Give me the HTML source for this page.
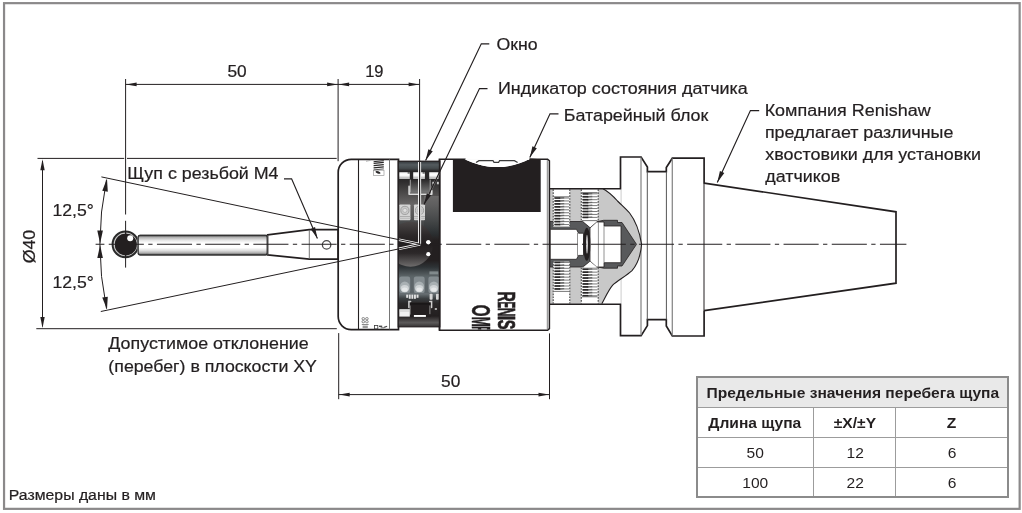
<!DOCTYPE html>
<html lang="ru"><head><meta charset="utf-8"><title>OMP40 — размеры</title>
<style>
html,body{margin:0;padding:0;background:#fff}
body{width:1022px;height:513px;position:relative;overflow:hidden;font-family:"Liberation Sans",sans-serif;color:#231f20}
svg{position:absolute;left:0;top:0;display:block;will-change:transform}
svg text{font-family:"Liberation Sans",sans-serif;fill:#231f20}
svg text.lb{stroke:#231f20;stroke-width:0.22px}
table{position:absolute;left:696px;top:375.8px;width:313.3px;border-collapse:collapse;table-layout:fixed;font-size:14.7px;border:2px solid #8b8b8b;box-sizing:border-box;will-change:transform}
td,th{border:1.3px solid #9c9c9c;padding:1.6px 0 0 0;text-align:center;vertical-align:middle;line-height:17px;font-weight:normal;box-sizing:border-box;white-space:nowrap;overflow:visible}
th{font-weight:bold}
td span,th span{display:inline-block;transform-origin:50% 50%}
tr.h th{background:#e9e9e9;height:30.3px}
tr.r1 th{height:30.2px}
tr.r2 td{height:30.5px}
tr.r3 td{height:29.3px}
tr.r1 th:first-child span{margin-right:2px}
tr.r2 td:first-child span{margin-right:1.6px}
tr td:last-child span{margin-left:1px}
th span{transform:scaleX(1.062)}
td span{transform:scaleX(1.06)}
</style></head><body>
<svg width="1022" height="513" viewBox="0 0 1022 513">
<defs>
<linearGradient id="stem" x1="0" y1="0" x2="0" y2="1">
<stop offset="0" stop-color="#3a3a3a"/><stop offset="0.06" stop-color="#6a6a6a"/><stop offset="0.13" stop-color="#b4b4b4"/><stop offset="0.26" stop-color="#e4e4e4"/><stop offset="0.4" stop-color="#ffffff"/><stop offset="0.62" stop-color="#ffffff"/><stop offset="0.76" stop-color="#e0e0e0"/><stop offset="0.88" stop-color="#b0b0b0"/><stop offset="0.95" stop-color="#6a6a6a"/><stop offset="1" stop-color="#3a3a3a"/>
</linearGradient>
<linearGradient id="win" x1="0" y1="0" x2="0" y2="1">
<stop offset="0" stop-color="#2e3235"/><stop offset="0.07" stop-color="#282627"/><stop offset="0.12" stop-color="#2d2b2c"/><stop offset="0.2" stop-color="#4f4d4d"/><stop offset="0.26" stop-color="#686666"/><stop offset="0.34" stop-color="#565656"/><stop offset="0.42" stop-color="#33373a"/><stop offset="0.48" stop-color="#231f20"/><stop offset="0.6" stop-color="#231f20"/><stop offset="0.64" stop-color="#2e3336"/><stop offset="0.69" stop-color="#586063"/><stop offset="0.8" stop-color="#6a7276"/><stop offset="0.83" stop-color="#3a3e40"/><stop offset="0.86" stop-color="#2a2829"/><stop offset="0.935" stop-color="#231f20"/><stop offset="0.975" stop-color="#5c5a5a"/><stop offset="1" stop-color="#343233"/>
</linearGradient>
<linearGradient id="wtop" x1="0" y1="0" x2="0" y2="1"><stop offset="0" stop-color="#33383b"/><stop offset="0.35" stop-color="#535a5e"/><stop offset="0.7" stop-color="#454b4e"/><stop offset="1" stop-color="#282627"/></linearGradient>
<linearGradient id="pad" x1="0" y1="0" x2="0" y2="1"><stop offset="0" stop-color="#e9e9e9"/><stop offset="0.3" stop-color="#ffffff"/><stop offset="0.6" stop-color="#f4f4f4"/><stop offset="0.75" stop-color="#bcbcbc"/><stop offset="1" stop-color="#ededed"/></linearGradient>
<linearGradient id="wbox" x1="0" y1="0" x2="0" y2="1"><stop offset="0" stop-color="#2a2829"/><stop offset="1" stop-color="#777"/></linearGradient>
<linearGradient id="wright" x1="0" y1="0" x2="0" y2="1"><stop offset="0" stop-color="#6d6b6b" stop-opacity="0.9"/><stop offset="0.5" stop-color="#4a4c4d" stop-opacity="0.8"/><stop offset="1" stop-color="#262b2d" stop-opacity="0.6"/></linearGradient>
<linearGradient id="wdisc" x1="0" y1="0" x2="0" y2="1"><stop offset="0" stop-color="#4a4646"/><stop offset="0.3" stop-color="#2c2829"/><stop offset="0.5" stop-color="#231f20"/><stop offset="0.7" stop-color="#2c2829"/><stop offset="1" stop-color="#6e6c6c"/></linearGradient>
<pattern id="thr" x="0" y="0" width="20" height="2.95" patternUnits="userSpaceOnUse">
<rect x="0" y="0" width="20" height="2.95" fill="#f4f4f4"/>
<rect x="0" y="0.3" width="20" height="1.3" fill="#8c8c8c"/>
<rect x="2.5" y="0.2" width="5" height="1.5" fill="#2a2a2a"/>
</pattern>
<clipPath id="bodyclip"><rect x="440" y="160" width="108" height="169.4"/></clipPath>
</defs>
<rect x="4.05" y="3.15" width="1015.6" height="505.7" fill="#fff" stroke="#8b898a" stroke-width="2.2"/>
<g stroke="#231f20" fill="#fff" stroke-linejoin="miter">
<polygon points="704.1,183.1 896,211.8 896,283.2 704.1,310.6" stroke="none"/>
<polyline points="704.1,183.1 896,211.8 896,283.2 704.1,310.6" fill="none" stroke-width="1.7"/>
<path d="M620.5,188.5 L620.5,157 L641.1,157 L647.4,167 L647.4,171.6 L666.3,171.6 L666.3,167.6 L672.3,158.2 L704.1,158.2 L704.1,183.4 M704.1,310.4 L704.1,336 L672.3,336 L666.3,326 L666.3,319.6 L647.4,319.6 L647.4,325.6 L641.1,335.6 L620.5,335.6 L620.5,304.4 " stroke-width="1.7"/>
</g>
<line x1="704.0" y1="183" x2="704.0" y2="310.6" stroke="#231f20" stroke-width="1" />
<line x1="641.0" y1="157.5" x2="641.0" y2="335.2" stroke="#8a8a8a" stroke-width="1.3" />
<line x1="647.3" y1="171.6" x2="647.3" y2="319.6" stroke="#555" stroke-width="1" />
<line x1="666.4" y1="171.6" x2="666.4" y2="319.6" stroke="#555" stroke-width="1" />
<line x1="672.3" y1="158.5" x2="672.3" y2="335.6" stroke="#8a8a8a" stroke-width="1.3" />
<line x1="620.8" y1="189" x2="620.8" y2="304" stroke="#9a9a9a" stroke-width="1" />
<rect x="549.7" y="188.8" width="71" height="115.1" fill="#fff"/>
<path d="M550,188.8 L603,188.8 C609,192 613,196 617.5,201 C622,205.5 626,209 629.6,213 C635,220 639.5,231 641.6,244.3 C640.5,257 637,265 632,270.6 C626,276 617,281 612.7,285.1 C608.5,290 605.5,297 601.8,303.8 L550,303.8 Z" fill="#c8c8c8" stroke="none"/>
<path d="M549.8,221.5 L582.5,221.5 L590,227.5 L597.6,221.5 L603.6,220.3 L617.5,220.3 L617.5,222.5 L622,222.5 L636.5,244.3 L622,266 L617.5,266 L617.5,268.2 L603.6,268.2 L597.6,267 L590,261.5 L582.5,267 L549.8,267 Z" fill="#58595b" stroke="#231f20" stroke-width="0.8"/>
<rect x="553.2" y="189.3" width="16.59999999999991" height="37.69999999999999" fill="#fff"/><line x1="553.8000000000001" y1="198.00" x2="569.1999999999999" y2="198.00" stroke="#7a7a7a" stroke-width="1"/><line x1="559.4000000000001" y1="198.00" x2="564.2" y2="197.70" stroke="#6a6a6a" stroke-width="1.4"/><line x1="554.6" y1="198.00" x2="560.2" y2="198.00" stroke="#2a2829" stroke-width="1.7"/><line x1="553.8000000000001" y1="200.95" x2="569.1999999999999" y2="200.95" stroke="#7a7a7a" stroke-width="1"/><line x1="559.4000000000001" y1="200.95" x2="564.2" y2="200.65" stroke="#6a6a6a" stroke-width="1.4"/><line x1="554.6" y1="200.95" x2="560.2" y2="200.95" stroke="#2a2829" stroke-width="1.7"/><line x1="553.8000000000001" y1="203.90" x2="569.1999999999999" y2="203.90" stroke="#7a7a7a" stroke-width="1"/><line x1="559.4000000000001" y1="203.90" x2="564.2" y2="203.60" stroke="#6a6a6a" stroke-width="1.4"/><line x1="554.6" y1="203.90" x2="560.2" y2="203.90" stroke="#2a2829" stroke-width="1.7"/><line x1="553.8000000000001" y1="206.85" x2="569.1999999999999" y2="206.85" stroke="#7a7a7a" stroke-width="1"/><line x1="559.4000000000001" y1="206.85" x2="564.2" y2="206.55" stroke="#6a6a6a" stroke-width="1.4"/><line x1="554.6" y1="206.85" x2="560.2" y2="206.85" stroke="#2a2829" stroke-width="1.7"/><line x1="553.8000000000001" y1="209.80" x2="569.1999999999999" y2="209.80" stroke="#7a7a7a" stroke-width="1"/><line x1="559.4000000000001" y1="209.80" x2="564.2" y2="209.50" stroke="#6a6a6a" stroke-width="1.4"/><line x1="554.6" y1="209.80" x2="560.2" y2="209.80" stroke="#2a2829" stroke-width="1.7"/><line x1="553.8000000000001" y1="212.75" x2="569.1999999999999" y2="212.75" stroke="#7a7a7a" stroke-width="1"/><line x1="559.4000000000001" y1="212.75" x2="564.2" y2="212.45" stroke="#6a6a6a" stroke-width="1.4"/><line x1="554.6" y1="212.75" x2="560.2" y2="212.75" stroke="#2a2829" stroke-width="1.7"/><line x1="553.8000000000001" y1="215.70" x2="569.1999999999999" y2="215.70" stroke="#7a7a7a" stroke-width="1"/><line x1="559.4000000000001" y1="215.70" x2="564.2" y2="215.40" stroke="#6a6a6a" stroke-width="1.4"/><line x1="554.6" y1="215.70" x2="560.2" y2="215.70" stroke="#2a2829" stroke-width="1.7"/><line x1="553.8000000000001" y1="218.65" x2="569.1999999999999" y2="218.65" stroke="#7a7a7a" stroke-width="1"/><line x1="559.4000000000001" y1="218.65" x2="564.2" y2="218.35" stroke="#6a6a6a" stroke-width="1.4"/><line x1="554.6" y1="218.65" x2="560.2" y2="218.65" stroke="#2a2829" stroke-width="1.7"/><line x1="553.8000000000001" y1="221.60" x2="569.1999999999999" y2="221.60" stroke="#7a7a7a" stroke-width="1"/><line x1="559.4000000000001" y1="221.60" x2="564.2" y2="221.30" stroke="#6a6a6a" stroke-width="1.4"/><line x1="554.6" y1="221.60" x2="560.2" y2="221.60" stroke="#2a2829" stroke-width="1.7"/><line x1="553.8000000000001" y1="224.55" x2="569.1999999999999" y2="224.55" stroke="#7a7a7a" stroke-width="1"/><line x1="559.4000000000001" y1="224.55" x2="564.2" y2="224.25" stroke="#6a6a6a" stroke-width="1.4"/><line x1="554.6" y1="224.55" x2="560.2" y2="224.55" stroke="#2a2829" stroke-width="1.7"/><line x1="553.9000000000001" y1="196.8" x2="569.0999999999999" y2="196.8" stroke="#666" stroke-width="0.9"/><line x1="553.9000000000001" y1="227" x2="569.0999999999999" y2="227" stroke="#666" stroke-width="0.9"/><line x1="553.2" y1="189.3" x2="553.2" y2="227" stroke="#4a4a4a" stroke-width="1.1" stroke-dasharray="1.7 1.25"/><line x1="569.8" y1="189.3" x2="569.8" y2="227" stroke="#4a4a4a" stroke-width="1.1" stroke-dasharray="1.7 1.25"/>
<rect x="581.3" y="189.3" width="16.90000000000009" height="31.69999999999999" fill="#fff"/><line x1="581.9" y1="193.80" x2="597.6" y2="193.80" stroke="#7a7a7a" stroke-width="1"/><line x1="587.5" y1="193.80" x2="592.3" y2="193.50" stroke="#6a6a6a" stroke-width="1.4"/><line x1="582.6999999999999" y1="193.80" x2="588.3" y2="193.80" stroke="#2a2829" stroke-width="1.7"/><line x1="581.9" y1="196.75" x2="597.6" y2="196.75" stroke="#7a7a7a" stroke-width="1"/><line x1="587.5" y1="196.75" x2="592.3" y2="196.45" stroke="#6a6a6a" stroke-width="1.4"/><line x1="582.6999999999999" y1="196.75" x2="588.3" y2="196.75" stroke="#2a2829" stroke-width="1.7"/><line x1="581.9" y1="199.70" x2="597.6" y2="199.70" stroke="#7a7a7a" stroke-width="1"/><line x1="587.5" y1="199.70" x2="592.3" y2="199.40" stroke="#6a6a6a" stroke-width="1.4"/><line x1="582.6999999999999" y1="199.70" x2="588.3" y2="199.70" stroke="#2a2829" stroke-width="1.7"/><line x1="581.9" y1="202.65" x2="597.6" y2="202.65" stroke="#7a7a7a" stroke-width="1"/><line x1="587.5" y1="202.65" x2="592.3" y2="202.35" stroke="#6a6a6a" stroke-width="1.4"/><line x1="582.6999999999999" y1="202.65" x2="588.3" y2="202.65" stroke="#2a2829" stroke-width="1.7"/><line x1="581.9" y1="205.60" x2="597.6" y2="205.60" stroke="#7a7a7a" stroke-width="1"/><line x1="587.5" y1="205.60" x2="592.3" y2="205.30" stroke="#6a6a6a" stroke-width="1.4"/><line x1="582.6999999999999" y1="205.60" x2="588.3" y2="205.60" stroke="#2a2829" stroke-width="1.7"/><line x1="581.9" y1="208.55" x2="597.6" y2="208.55" stroke="#7a7a7a" stroke-width="1"/><line x1="587.5" y1="208.55" x2="592.3" y2="208.25" stroke="#6a6a6a" stroke-width="1.4"/><line x1="582.6999999999999" y1="208.55" x2="588.3" y2="208.55" stroke="#2a2829" stroke-width="1.7"/><line x1="581.9" y1="211.50" x2="597.6" y2="211.50" stroke="#7a7a7a" stroke-width="1"/><line x1="587.5" y1="211.50" x2="592.3" y2="211.20" stroke="#6a6a6a" stroke-width="1.4"/><line x1="582.6999999999999" y1="211.50" x2="588.3" y2="211.50" stroke="#2a2829" stroke-width="1.7"/><line x1="581.9" y1="214.45" x2="597.6" y2="214.45" stroke="#7a7a7a" stroke-width="1"/><line x1="587.5" y1="214.45" x2="592.3" y2="214.15" stroke="#6a6a6a" stroke-width="1.4"/><line x1="582.6999999999999" y1="214.45" x2="588.3" y2="214.45" stroke="#2a2829" stroke-width="1.7"/><line x1="581.9" y1="217.40" x2="597.6" y2="217.40" stroke="#7a7a7a" stroke-width="1"/><line x1="587.5" y1="217.40" x2="592.3" y2="217.10" stroke="#6a6a6a" stroke-width="1.4"/><line x1="582.6999999999999" y1="217.40" x2="588.3" y2="217.40" stroke="#2a2829" stroke-width="1.7"/><line x1="582.0" y1="192.6" x2="597.5" y2="192.6" stroke="#666" stroke-width="0.9"/><line x1="582.0" y1="220.6" x2="597.5" y2="220.6" stroke="#666" stroke-width="0.9"/><line x1="581.3" y1="189.3" x2="581.3" y2="221" stroke="#4a4a4a" stroke-width="1.1" stroke-dasharray="1.7 1.25"/><line x1="598.2" y1="189.3" x2="598.2" y2="221" stroke="#4a4a4a" stroke-width="1.1" stroke-dasharray="1.7 1.25"/>
<rect x="553.2" y="261" width="16.59999999999991" height="42.39999999999998" fill="#fff"/><line x1="553.8000000000001" y1="262.40" x2="569.1999999999999" y2="262.40" stroke="#7a7a7a" stroke-width="1"/><line x1="559.4000000000001" y1="262.40" x2="564.2" y2="262.10" stroke="#6a6a6a" stroke-width="1.4"/><line x1="554.6" y1="262.40" x2="560.2" y2="262.40" stroke="#2a2829" stroke-width="1.7"/><line x1="553.8000000000001" y1="265.35" x2="569.1999999999999" y2="265.35" stroke="#7a7a7a" stroke-width="1"/><line x1="559.4000000000001" y1="265.35" x2="564.2" y2="265.05" stroke="#6a6a6a" stroke-width="1.4"/><line x1="554.6" y1="265.35" x2="560.2" y2="265.35" stroke="#2a2829" stroke-width="1.7"/><line x1="553.8000000000001" y1="268.30" x2="569.1999999999999" y2="268.30" stroke="#7a7a7a" stroke-width="1"/><line x1="559.4000000000001" y1="268.30" x2="564.2" y2="268.00" stroke="#6a6a6a" stroke-width="1.4"/><line x1="554.6" y1="268.30" x2="560.2" y2="268.30" stroke="#2a2829" stroke-width="1.7"/><line x1="553.8000000000001" y1="271.25" x2="569.1999999999999" y2="271.25" stroke="#7a7a7a" stroke-width="1"/><line x1="559.4000000000001" y1="271.25" x2="564.2" y2="270.95" stroke="#6a6a6a" stroke-width="1.4"/><line x1="554.6" y1="271.25" x2="560.2" y2="271.25" stroke="#2a2829" stroke-width="1.7"/><line x1="553.8000000000001" y1="274.20" x2="569.1999999999999" y2="274.20" stroke="#7a7a7a" stroke-width="1"/><line x1="559.4000000000001" y1="274.20" x2="564.2" y2="273.90" stroke="#6a6a6a" stroke-width="1.4"/><line x1="554.6" y1="274.20" x2="560.2" y2="274.20" stroke="#2a2829" stroke-width="1.7"/><line x1="553.8000000000001" y1="277.15" x2="569.1999999999999" y2="277.15" stroke="#7a7a7a" stroke-width="1"/><line x1="559.4000000000001" y1="277.15" x2="564.2" y2="276.85" stroke="#6a6a6a" stroke-width="1.4"/><line x1="554.6" y1="277.15" x2="560.2" y2="277.15" stroke="#2a2829" stroke-width="1.7"/><line x1="553.8000000000001" y1="280.10" x2="569.1999999999999" y2="280.10" stroke="#7a7a7a" stroke-width="1"/><line x1="559.4000000000001" y1="280.10" x2="564.2" y2="279.80" stroke="#6a6a6a" stroke-width="1.4"/><line x1="554.6" y1="280.10" x2="560.2" y2="280.10" stroke="#2a2829" stroke-width="1.7"/><line x1="553.8000000000001" y1="283.05" x2="569.1999999999999" y2="283.05" stroke="#7a7a7a" stroke-width="1"/><line x1="559.4000000000001" y1="283.05" x2="564.2" y2="282.75" stroke="#6a6a6a" stroke-width="1.4"/><line x1="554.6" y1="283.05" x2="560.2" y2="283.05" stroke="#2a2829" stroke-width="1.7"/><line x1="553.8000000000001" y1="286.00" x2="569.1999999999999" y2="286.00" stroke="#7a7a7a" stroke-width="1"/><line x1="559.4000000000001" y1="286.00" x2="564.2" y2="285.70" stroke="#6a6a6a" stroke-width="1.4"/><line x1="554.6" y1="286.00" x2="560.2" y2="286.00" stroke="#2a2829" stroke-width="1.7"/><line x1="553.8000000000001" y1="288.95" x2="569.1999999999999" y2="288.95" stroke="#7a7a7a" stroke-width="1"/><line x1="559.4000000000001" y1="288.95" x2="564.2" y2="288.65" stroke="#6a6a6a" stroke-width="1.4"/><line x1="554.6" y1="288.95" x2="560.2" y2="288.95" stroke="#2a2829" stroke-width="1.7"/><line x1="553.9000000000001" y1="261.2" x2="569.0999999999999" y2="261.2" stroke="#666" stroke-width="0.9"/><line x1="553.9000000000001" y1="291.4" x2="569.0999999999999" y2="291.4" stroke="#666" stroke-width="0.9"/><line x1="553.2" y1="261" x2="553.2" y2="303.4" stroke="#4a4a4a" stroke-width="1.1" stroke-dasharray="1.7 1.25"/><line x1="569.8" y1="261" x2="569.8" y2="303.4" stroke="#4a4a4a" stroke-width="1.1" stroke-dasharray="1.7 1.25"/>
<rect x="581.3" y="267.5" width="16.90000000000009" height="35.89999999999998" fill="#fff"/><line x1="581.9" y1="269.20" x2="597.6" y2="269.20" stroke="#7a7a7a" stroke-width="1"/><line x1="587.5" y1="269.20" x2="592.3" y2="268.90" stroke="#6a6a6a" stroke-width="1.4"/><line x1="582.6999999999999" y1="269.20" x2="588.3" y2="269.20" stroke="#2a2829" stroke-width="1.7"/><line x1="581.9" y1="272.15" x2="597.6" y2="272.15" stroke="#7a7a7a" stroke-width="1"/><line x1="587.5" y1="272.15" x2="592.3" y2="271.85" stroke="#6a6a6a" stroke-width="1.4"/><line x1="582.6999999999999" y1="272.15" x2="588.3" y2="272.15" stroke="#2a2829" stroke-width="1.7"/><line x1="581.9" y1="275.10" x2="597.6" y2="275.10" stroke="#7a7a7a" stroke-width="1"/><line x1="587.5" y1="275.10" x2="592.3" y2="274.80" stroke="#6a6a6a" stroke-width="1.4"/><line x1="582.6999999999999" y1="275.10" x2="588.3" y2="275.10" stroke="#2a2829" stroke-width="1.7"/><line x1="581.9" y1="278.05" x2="597.6" y2="278.05" stroke="#7a7a7a" stroke-width="1"/><line x1="587.5" y1="278.05" x2="592.3" y2="277.75" stroke="#6a6a6a" stroke-width="1.4"/><line x1="582.6999999999999" y1="278.05" x2="588.3" y2="278.05" stroke="#2a2829" stroke-width="1.7"/><line x1="581.9" y1="281.00" x2="597.6" y2="281.00" stroke="#7a7a7a" stroke-width="1"/><line x1="587.5" y1="281.00" x2="592.3" y2="280.70" stroke="#6a6a6a" stroke-width="1.4"/><line x1="582.6999999999999" y1="281.00" x2="588.3" y2="281.00" stroke="#2a2829" stroke-width="1.7"/><line x1="581.9" y1="283.95" x2="597.6" y2="283.95" stroke="#7a7a7a" stroke-width="1"/><line x1="587.5" y1="283.95" x2="592.3" y2="283.65" stroke="#6a6a6a" stroke-width="1.4"/><line x1="582.6999999999999" y1="283.95" x2="588.3" y2="283.95" stroke="#2a2829" stroke-width="1.7"/><line x1="581.9" y1="286.90" x2="597.6" y2="286.90" stroke="#7a7a7a" stroke-width="1"/><line x1="587.5" y1="286.90" x2="592.3" y2="286.60" stroke="#6a6a6a" stroke-width="1.4"/><line x1="582.6999999999999" y1="286.90" x2="588.3" y2="286.90" stroke="#2a2829" stroke-width="1.7"/><line x1="581.9" y1="289.85" x2="597.6" y2="289.85" stroke="#7a7a7a" stroke-width="1"/><line x1="587.5" y1="289.85" x2="592.3" y2="289.55" stroke="#6a6a6a" stroke-width="1.4"/><line x1="582.6999999999999" y1="289.85" x2="588.3" y2="289.85" stroke="#2a2829" stroke-width="1.7"/><line x1="581.9" y1="292.80" x2="597.6" y2="292.80" stroke="#7a7a7a" stroke-width="1"/><line x1="587.5" y1="292.80" x2="592.3" y2="292.50" stroke="#6a6a6a" stroke-width="1.4"/><line x1="582.6999999999999" y1="292.80" x2="588.3" y2="292.80" stroke="#2a2829" stroke-width="1.7"/><line x1="581.9" y1="295.75" x2="597.6" y2="295.75" stroke="#7a7a7a" stroke-width="1"/><line x1="587.5" y1="295.75" x2="592.3" y2="295.45" stroke="#6a6a6a" stroke-width="1.4"/><line x1="582.6999999999999" y1="295.75" x2="588.3" y2="295.75" stroke="#2a2829" stroke-width="1.7"/><line x1="582.0" y1="268" x2="597.5" y2="268" stroke="#666" stroke-width="0.9"/><line x1="582.0" y1="296.8" x2="597.5" y2="296.8" stroke="#666" stroke-width="0.9"/><line x1="581.3" y1="267.5" x2="581.3" y2="303.4" stroke="#4a4a4a" stroke-width="1.1" stroke-dasharray="1.7 1.25"/><line x1="598.2" y1="267.5" x2="598.2" y2="303.4" stroke="#4a4a4a" stroke-width="1.1" stroke-dasharray="1.7 1.25"/>
<path d="M550.2,229.3 L576.5,229.3 L578.5,233.2 L583.5,233.2 L583.5,255.4 L578.5,255.4 L576.5,259.3 L550.2,259.3 Z" fill="#fff" stroke="#231f20" stroke-width="0.8"/>
<line x1="577.5" y1="233" x2="577.5" y2="256" stroke="#777" stroke-width="0.8" />
<path d="M590,228 L596.5,222 L604,222 L604,226 L621,226 L621,262.7 L604,262.7 L604,267 L596.5,267 L590,261 Z" fill="#fff" stroke="#231f20" stroke-width="0.8"/>
<line x1="598.4" y1="222" x2="598.4" y2="267" stroke="#777" stroke-width="0.8" />
<line x1="604" y1="226" x2="604" y2="262.7" stroke="#777" stroke-width="0.8" />
<polygon points="583.5,221.3 597,221.3 590.2,227.3" fill="#fff"/>
<polygon points="583.5,267.4 597,267.4 590.2,261.6" fill="#fff"/>
<ellipse cx="586.8" cy="244.25" rx="3.6" ry="16.6" fill="#231f20"/>
<ellipse cx="587" cy="244.25" rx="0.75" ry="9.5" fill="#fff"/>
<path d="M603,188.8 C609,192 613,196 617.5,201 C622,205.5 626,209 629.6,213 C635,220 639.5,231 641.6,244.3 C640.5,257 637,265 632,270.6 C626,276 617,281 612.7,285.1 C608.5,290 605.5,297 601.8,303.8" fill="none" stroke="#231f20" stroke-width="1.1"/>
<line x1="549.7" y1="188.8" x2="621.2" y2="188.8" stroke="#231f20" stroke-width="1.6" />
<line x1="549.7" y1="304.3" x2="621.2" y2="304.3" stroke="#231f20" stroke-width="1.6" />
<path d="M439.4,159.2 L547.6,159.2 L549.4,160.8 L549.4,328.6 L547.6,330.2 L439.4,330.2 Z" fill="#fff" stroke="#231f20" stroke-width="1.5"/>
<line x1="547.3" y1="160" x2="547.3" y2="329" stroke="#777" stroke-width="0.9" />
<path d="M452.9,159.2 L464.5,159.2 C474,163.5 484,167 497,167 C510,167 521,163.5 530,158.6 L540.7,159.2 L540.7,212.1 L452.9,212.1 Z" fill="#231f20"/>
<path d="M464.5,159.3 C474,163.6 484,167.1 497,167.1 C510,167.1 521,163.6 530,158.7 Z" fill="#fff"/>
<path d="M476,162.6 L479,160.7 L493,160.7 L494,162.4 L498.6,162.4 L499.6,160.7 L514.4,160.7 L517.6,162.6" fill="none" stroke="#3a3a3a" stroke-width="1.2"/>
<rect x="465.6" y="157" width="63.6" height="2.9" fill="#fff"/>
<g clip-path="url(#bodyclip)" font-weight="bold"><text transform="translate(498.4,291.58) rotate(90) scale(0.5836,1)" font-size="24.3" stroke="#231f20" stroke-width="0.7">R</text><text transform="translate(498.4,301.59) rotate(90) scale(0.4074,1)" font-size="24.3" stroke="#231f20" stroke-width="0.7">E</text><text transform="translate(498.4,307.83) rotate(90) scale(0.4982,1)" font-size="24.3" stroke="#231f20" stroke-width="0.7">N</text><text transform="translate(498.4,315.56) rotate(90) scale(0.7077,1)" font-size="24.3" stroke="#231f20" stroke-width="0.7">I</text><text transform="translate(498.4,319.65) rotate(90) scale(0.6000,1)" font-size="24.3" stroke="#231f20" stroke-width="0.7">S</text></g>
<g clip-path="url(#bodyclip)" font-weight="bold"><text transform="translate(472.3,304.79) rotate(90) scale(0.6057,1)" font-size="25.14" stroke="#231f20" stroke-width="0.5">O</text><text transform="translate(472.3,316.67) rotate(90) scale(0.4743,1)" font-size="25.14" stroke="#231f20" stroke-width="0.5">M</text><text transform="translate(472.3,325.99) rotate(90) scale(0.4070,1)" font-size="25.14" stroke="#231f20" stroke-width="0.5">P</text></g>
<path d="M351.2,159.3 L398.5,159.3 L398.5,329.6 L351.2,329.6 C344,329.6 338.2,323.8 338.2,316.6 L338.2,172.3 C338.2,165.1 344,159.3 351.2,159.3 Z" fill="#fff" stroke="#231f20" stroke-width="1.7"/>
<line x1="358.5" y1="159.3" x2="358.5" y2="329.4" stroke="#231f20" stroke-width="1.1" />
<line x1="389.5" y1="159.3" x2="389.5" y2="329.4" stroke="#666" stroke-width="0.9" />
<g fill="none" stroke="#2a2829" stroke-linecap="butt">
<line x1="373.6" y1="161.7" x2="383.8" y2="160.7" stroke-width="1.0"/>
<line x1="373.6" y1="163.4" x2="383.8" y2="162.4" stroke-width="1.3"/>
<line x1="373.6" y1="165.6" x2="383.8" y2="164.6" stroke-width="1.4"/>
<line x1="373.6" y1="167.9" x2="383.8" y2="166.9" stroke-width="1.4"/>
<line x1="373.6" y1="169.9" x2="383.8" y2="168.9" stroke-width="0.8"/>
<rect x="373.6" y="170.2" width="10.4" height="5.4" stroke="#8a8a8a" stroke-width="0.6"/>
<path d="M366,161.2 L370.5,160.4" stroke="#aaa" stroke-width="1"/>
</g>
<ellipse cx="378" cy="172.4" rx="2.6" ry="1.2" fill="#2a2829" transform="rotate(18 378 172.4)"/>
<g fill="none" stroke="#777" stroke-width="0.9">
<rect x="362" y="317.6" width="2.6" height="2.2" rx="1"/><rect x="365.6" y="317.6" width="2.6" height="2.2" rx="1"/>
<rect x="362" y="320.6" width="2.6" height="2.2" rx="1"/><rect x="365.6" y="320.6" width="2.6" height="2.2" rx="1"/>
</g>
<rect x="361.8" y="324" width="6.8" height="1" fill="#8a8a8a"/><rect x="362.6" y="325.6" width="5.2" height="2.6" fill="#9a9a9a"/>
<rect x="374.4" y="325.5" width="3.4" height="3.4" fill="none" stroke="#3a3a3a" stroke-width="0.8"/>
<rect x="379" y="325.6" width="3.2" height="1.4" fill="#4a4a4a"/><rect x="380.6" y="327.2" width="3.6" height="1.2" fill="#777"/><rect x="384" y="326.2" width="3.2" height="1.2" fill="#4a4a4a" transform="rotate(-20 385.6 326.8)"/>
<clipPath id="wclip"><rect x="398.2" y="161.2" width="41.60000000000002" height="165.60000000000002"/></clipPath>
<rect x="398.2" y="161.2" width="41.60000000000002" height="165.60000000000002" fill="url(#win)"/>
<g clip-path="url(#wclip)">
<rect x="424" y="196" width="16" height="40" fill="url(#wright)"/>
<circle cx="410.5" cy="244.2" r="22.5" fill="url(#wdisc)"/>
<rect x="398.2" y="161.2" width="41.6" height="10" fill="url(#wtop)"/>
<rect x="399.2" y="171.6" width="39.6" height="8.2" fill="#2a2829"/>
<rect x="399.3" y="172.2" width="10.5" height="6.6" fill="url(#pad)"/>
<rect x="413.2" y="172.2" width="11.7" height="6.6" fill="url(#pad)"/>
<rect x="429.2" y="172.2" width="9.4" height="6.6" fill="url(#pad)"/>
<rect x="407.6" y="172.2" width="2.2" height="1.4" fill="#555"/><rect x="422.6" y="172.2" width="2.2" height="1.4" fill="#555"/>
<rect x="410" y="179" width="3.1" height="7" fill="#262324" opacity="0.85"/><rect x="425" y="179" width="4.2" height="8" fill="#262324" opacity="0.85"/>
<rect x="410.4" y="179.4" width="19.8" height="13.4" fill="url(#wbox)"/>
<path d="M410.3,179.6 L410.3,192.6 M430.2,179.6 L430.2,190" fill="none" stroke="#bdbdbd" stroke-width="0.8"/>
<path d="M409.1,186.4 L409.1,194.2 L431.8,194.2 L431.8,190.6" fill="none" stroke="#dcdcdc" stroke-width="1.6" stroke-linejoin="round" stroke-linecap="round"/>
<rect x="432.3" y="181.8" width="2.1" height="2.5" fill="#c9c9c9"/><rect x="436.9" y="181.8" width="2.1" height="2.5" fill="#c9c9c9"/>
<rect x="399.4" y="204.4" width="11" height="15.8" rx="0.8" fill="#d4d4d4"/>
<circle cx="404.9" cy="210.4" r="4.1" fill="#c9c9c9" stroke="#9a9a9a" stroke-width="0.9"/>
<circle cx="404.9" cy="210.4" r="2.1" fill="#dedede" stroke="#a8a8a8" stroke-width="0.7"/>
<rect x="399.4" y="216.2" width="11" height="0.9" fill="#a2a2a2"/>
<rect x="399.4" y="218.2" width="11" height="0.7" fill="#b5b5b5"/>
<rect x="414.0" y="204.4" width="11" height="15.8" rx="0.8" fill="#d4d4d4"/>
<circle cx="419.5" cy="210.4" r="4.1" fill="#c9c9c9" stroke="#9a9a9a" stroke-width="0.9"/>
<circle cx="419.5" cy="210.4" r="2.1" fill="#dedede" stroke="#a8a8a8" stroke-width="0.7"/>
<rect x="414.0" y="216.2" width="11" height="0.9" fill="#a2a2a2"/>
<rect x="414.0" y="218.2" width="11" height="0.7" fill="#b5b5b5"/>
<circle cx="428.3" cy="242.3" r="2.1" fill="#fff"/><circle cx="428.3" cy="254.2" r="2.1" fill="#fff"/>
<rect x="429.4" y="271.4" width="9" height="3" fill="#8f979a" opacity="0.8"/>
<rect x="398.2" y="276.3" width="41.6" height="17" fill="#5d6569"/>
<rect x="399.3" y="276.5" width="10.9" height="16.6" rx="2.2" fill="#848c90"/>
<ellipse cx="404.75" cy="286.8" rx="4.9" ry="5.2" fill="#a9b0b3"/>
<ellipse cx="404.75" cy="288.6" rx="4.1" ry="3.6" fill="#cfd3d5"/>
<ellipse cx="404.75" cy="289.6" rx="2.8" ry="2.2" fill="#e6e8e9"/>
<rect x="413.8" y="276.5" width="10.9" height="16.6" rx="2.2" fill="#848c90"/>
<ellipse cx="419.25" cy="286.8" rx="4.9" ry="5.2" fill="#a9b0b3"/>
<ellipse cx="419.25" cy="288.6" rx="4.1" ry="3.6" fill="#cfd3d5"/>
<ellipse cx="419.25" cy="289.6" rx="2.8" ry="2.2" fill="#e6e8e9"/>
<rect x="428.4" y="276.5" width="10.9" height="16.6" rx="2.2" fill="#848c90"/>
<ellipse cx="433.84999999999997" cy="286.8" rx="4.9" ry="5.2" fill="#a9b0b3"/>
<ellipse cx="433.84999999999997" cy="288.6" rx="4.1" ry="3.6" fill="#cfd3d5"/>
<ellipse cx="433.84999999999997" cy="289.6" rx="2.8" ry="2.2" fill="#e6e8e9"/>
<rect x="406.2" y="294.6" width="1.9" height="3.2" fill="#e2e2e2"/>
<rect x="408.8" y="294.6" width="1.9" height="4.2" fill="#e2e2e2"/>
<rect x="411.4" y="294.6" width="1.9" height="4.2" fill="#e2e2e2"/>
<rect x="414.0" y="294.6" width="1.9" height="4.2" fill="#e2e2e2"/>
<rect x="416.6" y="294.6" width="1.9" height="3.2" fill="#e2e2e2"/>
<rect x="429.6" y="293.8" width="3" height="6" rx="0.8" fill="#d6d6d6"/><rect x="436" y="293.8" width="2.8" height="6" rx="0.8" fill="#d6d6d6"/>
<rect x="410" y="302.6" width="21" height="14.4" fill="#231f20"/>
<rect x="409.6" y="303" width="21.4" height="1.6" fill="#1a1718"/>
<path d="M410.6,301.6 L408.9,301.6 L408.9,307.6 M429.8,301.6 L431.6,301.6 L431.6,307.6" fill="none" stroke="#d0d0d0" stroke-width="1.5" stroke-linecap="round"/>
<path d="M410.1,305.5 L410.1,314.6 M429.9,305.5 L429.9,314.2" fill="none" stroke="#a9a9a9" stroke-width="0.8"/>
<rect x="399.3" y="309.2" width="10.5" height="7.4" fill="#f0f0f0"/><rect x="399.3" y="310.6" width="10.5" height="0.8" fill="#bdbdbd"/>
<rect x="413.9" y="315" width="12" height="1.9" fill="#fff"/>
<rect x="434.8" y="308.2" width="2.1" height="1.6" fill="#d0d0d0"/>
</g>
<rect x="398.2" y="161.2" width="41.60000000000002" height="165.60000000000002" fill="none" stroke="#231f20" stroke-width="1.2"/>
<line x1="439.6" y1="159.2" x2="439.6" y2="330.2" stroke="#231f20" stroke-width="1.5" />
<circle cx="125.5" cy="244.45" r="12.9" fill="#c4c4c4" stroke="#2b2b2b" stroke-width="2"/>
<rect x="137.6" y="234.8" width="130" height="20.6" rx="2.2" fill="url(#stem)"/>
<rect x="138.2" y="235.4" width="129.4" height="19.4" rx="2" fill="none" stroke="#333" stroke-width="1.2"/>
<path d="M267.5,234.8 L309.3,229.6 L338,229.6 L338,259.2 L309.3,259.2 L267.5,254.9 Z" fill="#fff" stroke="#231f20" stroke-width="1.8" stroke-linejoin="round"/>
<line x1="267.5" y1="235" x2="267.5" y2="255" stroke="#444" stroke-width="1" />
<line x1="309.3" y1="230" x2="309.3" y2="259" stroke="#666" stroke-width="0.9" />
<circle cx="326.6" cy="244.9" r="4.2" fill="#fff" stroke="#4a4a4a" stroke-width="1.3"/>
<circle cx="125.8" cy="244.45" r="10.8" fill="#231f20"/>
<circle cx="130.2" cy="238.3" r="3.0" fill="#fff"/>
<line x1="108.75" y1="244.25" x2="906.4" y2="244.25" stroke="#231f20" stroke-width="1" stroke-dasharray="35.1 4.4 4.3 4.4"/>
<line x1="95.6" y1="244.25" x2="104.4" y2="244.25" stroke="#231f20" stroke-width="1" />
<line x1="125.6" y1="220.8" x2="125.6" y2="267.6" stroke="#231f20" stroke-width="1" />
<rect x="399" y="243.25" width="40" height="2" fill="#231f20"/>
<circle cx="428.3" cy="242.3" r="2.1" fill="#fff"/>
<circle cx="125.8" cy="244.45" r="10.8" fill="#231f20"/>
<circle cx="130.2" cy="238.3" r="3.0" fill="#fff"/>
<line x1="125.6" y1="231.5" x2="125.6" y2="234.3" stroke="#231f20" stroke-width="1" />
<line x1="125.6" y1="254.6" x2="125.6" y2="257" stroke="#231f20" stroke-width="1" />
<g stroke="#fff" stroke-width="2.6" fill="none"><line x1="399" y1="239.73" x2="420.25" y2="244.2"/><line x1="399" y1="248.67" x2="420.25" y2="244.2"/><line x1="419.6" y1="162" x2="419.6" y2="243.8" stroke-width="3"/></g>
<line x1="101.4" y1="176.9" x2="420.25" y2="244.2" stroke="#231f20" stroke-width="1" />
<line x1="100.8" y1="311.5" x2="420.25" y2="244.39999999999998" stroke="#231f20" stroke-width="1" />
<path d="M106.49,179.79 A320.3,320.3 0 0 0 106.49,308.61" fill="none" stroke="#231f20" stroke-width="1"/>
<polygon points="106.99,178.87 107.80,191.65 102.27,190.78" fill="#231f20"/>
<polygon points="106.99,309.53 102.27,297.62 107.80,296.75" fill="#231f20"/>
<polygon points="100.10,243.60 97.30,230.40 102.90,230.40" fill="#231f20"/>
<polygon points="100.10,244.90 102.90,258.10 97.30,258.10" fill="#231f20"/>
<line x1="125.6" y1="79" x2="125.6" y2="214.5" stroke="#231f20" stroke-width="1" />
<line x1="338.1" y1="79" x2="338.1" y2="161.2" stroke="#231f20" stroke-width="1" />
<line x1="419.6" y1="79" x2="419.6" y2="160.5" stroke="#231f20" stroke-width="1" />
<line x1="419.6" y1="160.5" x2="419.6" y2="243.8" stroke="#231f20" stroke-width="1.25" />
<line x1="125.6" y1="84.4" x2="419.6" y2="84.4" stroke="#231f20" stroke-width="1" />
<polygon points="126.10,84.40 136.60,82.50 136.60,86.30" fill="#231f20"/>
<polygon points="337.60,84.40 327.10,86.30 327.10,82.50" fill="#231f20"/>
<polygon points="338.60,84.40 349.10,82.50 349.10,86.30" fill="#231f20"/>
<polygon points="419.10,84.40 408.60,86.30 408.60,82.50" fill="#231f20"/>
<text class="lb" transform="translate(227.47,76.80) scale(1.0000,1)" font-size="17.3">50</text>
<text class="lb" transform="translate(365.15,76.50) scale(0.9565,1)" font-size="17.3">19</text>
<line x1="37.5" y1="158.4" x2="124.2" y2="158.4" stroke="#231f20" stroke-width="1" />
<line x1="127" y1="158.4" x2="336.7" y2="158.4" stroke="#231f20" stroke-width="1" />
<line x1="36.3" y1="328.7" x2="336.8" y2="328.7" stroke="#231f20" stroke-width="1" />
<line x1="42.5" y1="161" x2="42.5" y2="326.5" stroke="#231f20" stroke-width="1" />
<polygon points="42.50,159.30 44.70,170.30 40.30,170.30" fill="#231f20"/>
<polygon points="42.50,327.90 40.30,316.90 44.70,316.90" fill="#231f20"/>
<text class="lb" transform="translate(34.5,263.3) rotate(-90) scale(1.025,1)" font-size="17.3">Ø40</text>
<line x1="338.7" y1="333.1" x2="338.7" y2="399.2" stroke="#231f20" stroke-width="1" />
<line x1="549.5" y1="333.4" x2="549.5" y2="399.2" stroke="#231f20" stroke-width="1" />
<line x1="338.7" y1="394.6" x2="549.5" y2="394.6" stroke="#231f20" stroke-width="1" />
<polygon points="339.20,394.60 349.70,392.70 349.70,396.50" fill="#231f20"/>
<polygon points="549.00,394.60 538.50,396.50 538.50,392.70" fill="#231f20"/>
<text class="lb" transform="translate(441.08,386.80) scale(1.0000,1)" font-size="17.3">50</text>
<polyline points="489.3,43.8 481.3,43.8 425.6,160.6" fill="none" stroke="#231f20" stroke-width="1.15"/><polygon points="425.60,160.60 428.38,149.19 432.72,151.25" fill="#231f20"/>
<line x1="439" y1="173.4" x2="427" y2="198.4" stroke="#fff" stroke-width="2" opacity="0.3"/>
<polyline points="487.5,88.6 479.5,88.6 424,204.6" fill="none" stroke="#231f20" stroke-width="1.15"/><polygon points="424.00,204.60 426.80,193.19 431.13,195.26" fill="#231f20"/>
<polyline points="558.5,113.8 550,113.8 529.8,157.6" fill="none" stroke="#231f20" stroke-width="1.15"/><polygon points="529.80,157.60 532.44,146.15 536.80,148.16" fill="#231f20"/>
<polyline points="759.2,110.6 750.4,110.6 717.3,182.4" fill="none" stroke="#231f20" stroke-width="1.15"/><polygon points="717.30,182.40 719.94,170.95 724.29,172.96" fill="#231f20"/>
<polyline points="284,178.8 291.6,178.8 317.4,238.5" fill="none" stroke="#231f20" stroke-width="1.15"/><polygon points="317.40,238.50 310.63,228.90 315.04,226.99" fill="#231f20"/>
<text class="lb" transform="translate(496.43,49.90) scale(1.0245,1)" font-size="17.3">Окно</text>
<text class="lb" transform="translate(497.95,93.50) scale(1.0352,1)" font-size="17.3">Индикатор состояния датчика</text>
<text class="lb" transform="translate(563.65,120.80) scale(1.0344,1)" font-size="17.3">Батарейный блок</text>
<text class="lb" transform="translate(764.64,115.55) scale(1.0389,1)" font-size="17.3">Компания Renishaw</text>
<text class="lb" transform="translate(764.91,138.00) scale(1.0330,1)" font-size="17.3">предлагает различные</text>
<text class="lb" transform="translate(765.34,159.80) scale(1.0353,1)" font-size="17.3">хвостовики для установки</text>
<text class="lb" transform="translate(765.34,182.40) scale(1.0322,1)" font-size="17.3">датчиков</text>
<text class="lb" transform="translate(127.25,178.60) scale(1.0318,1)" font-size="17.3">Щуп с резьбой М4</text>
<text class="lb" transform="translate(108.34,349.30) scale(1.0318,1)" font-size="17.3">Допустимое отклонение</text>
<text class="lb" transform="translate(108.37,372.10) scale(1.0255,1)" font-size="17.3">(перебег) в плоскости XY</text>
<text class="lb" transform="translate(52.43,215.60) scale(1.0196,1)" font-size="17.3">12,5°</text>
<text class="lb" transform="translate(52.43,288.20) scale(1.0196,1)" font-size="17.3">12,5°</text>
<text class="lb" transform="translate(8.78,500.30) scale(1.0550,1)" font-size="15">Размеры даны в мм</text>
</svg>
<table>
<colgroup><col style="width:116.8px"><col style="width:81.8px"><col></colgroup>
<tr class="h"><th colspan="3"><span>Предельные значения перебега щупа</span></th></tr>
<tr class="r1"><th><span>Длина щупа</span></th><th><span>±X/±Y</span></th><th><span>Z</span></th></tr>
<tr class="r2"><td><span>50</span></td><td><span>12</span></td><td><span>6</span></td></tr>
<tr class="r3"><td><span>100</span></td><td><span>22</span></td><td><span>6</span></td></tr>
</table>
</body></html>
